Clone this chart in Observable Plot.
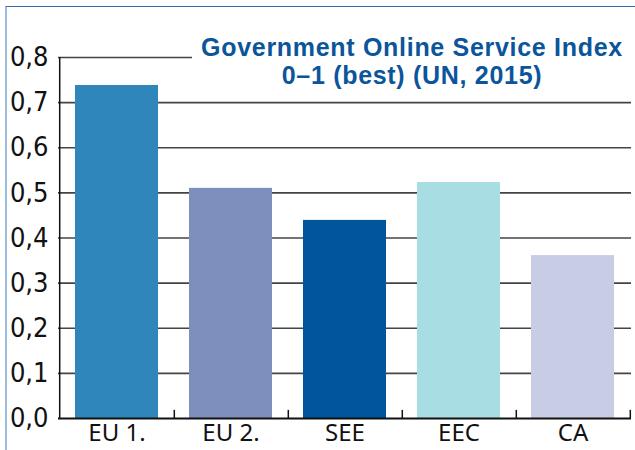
<!DOCTYPE html>
<html>
<head>
<meta charset="utf-8">
<script src="https://cdn.jsdelivr.net/npm/d3@7"></script>
<script src="https://cdn.jsdelivr.net/npm/@observablehq/plot@0.6"></script>
<style>
  html, body { margin: 0; padding: 0; background: #fff; }
  #wrap { position: relative; width: 635px; height: 450px; overflow: hidden; }
  #frame { position: absolute; left: 5px; top: 6px; right: 0; bottom: 0;
           border-top: 1.5px solid #2f6aa6; border-left: 2px solid #9cbde0; }
  #chart { position: absolute; left: 0; top: 0; }
  #title { position: absolute; left: 192px; top: 31px; width: 440px; background: #fff;
           color: #0b559b; font-family: "Liberation Sans", Arial, sans-serif; font-weight: bold;
           font-size: 25px; letter-spacing: 0.7px; text-align: center; padding: 2px 0 6px 0; white-space: nowrap; }
  #title div { height: 28px; line-height: 28px; }
</style>
</head>
<body>
<div id="wrap">
  <div id="frame"></div>
  <div id="chart"></div>
  <div id="title"><div>Government Online Service Index</div><div>0–1 (best) (UN, 2015)</div></div>
</div>
<script>
const categories = ["EU 1.", "EU 2.", "SEE", "EEC", "CA"];
const values = [0.738, 0.510, 0.439, 0.523, 0.361];
const colors = ["#2e86bb", "#7f8fbd", "#00559b", "#a8dde4", "#c8cce4"];
const yTicks = [0, 0.1, 0.2, 0.3, 0.4, 0.5, 0.6, 0.7, 0.8];

const data = categories.map((c, i) => ({cat: c, value: values[i], color: colors[i]}));
const step = (631 - 58) / categories.length;

const chart = Plot.plot({
  width: 635,
  height: 450,
  marginLeft: 58,
  marginRight: 4,
  marginTop: 57,
  marginBottom: 32,
  style: {background: "transparent", overflow: "visible"},
  x: {domain: categories, paddingInner: 0.275, paddingOuter: 0.1375, label: null},
  y: {domain: [0, 0.8], label: null},
  marks: [
    Plot.ruleY(yTicks.filter(d => d > 0), {stroke: "#444", strokeWidth: 1.6}),
    Plot.barY(data, {x: "cat", y: "value", fill: "color"}),
    Plot.ruleX(categories, {x: d => d, dx: step / 2, y1: 0, y2: 0.018, stroke: "#111", strokeWidth: 1.5}),
    Plot.ruleY([0], {stroke: "#111", strokeWidth: 1.8}),
    Plot.ruleX([categories[0]], {x: d => d, dx: -step / 2, y1: 0, y2: 0.8, stroke: "#111", strokeWidth: 1.5}),
    Plot.axisY({ticks: yTicks, tickSize: 0, tickPadding: 10, tickFormat: d => d3.format(".1f")(d).replace(".", ","),
      fontSize: 27, fontFamily: "Liberation Sans Narrow, DejaVu Sans Condensed, sans-serif", fill: "#111", label: null,
      style: {letterSpacing: "-0.8px"}}),
    Plot.axisX({tickSize: 0, tickPadding: 5, fontSize: 24, fontFamily: "Noto Sans, Open Sans, sans-serif", fill: "#111", label: null})
  ]
});
document.getElementById("chart").appendChild(chart);
</script>
</body>
</html>
